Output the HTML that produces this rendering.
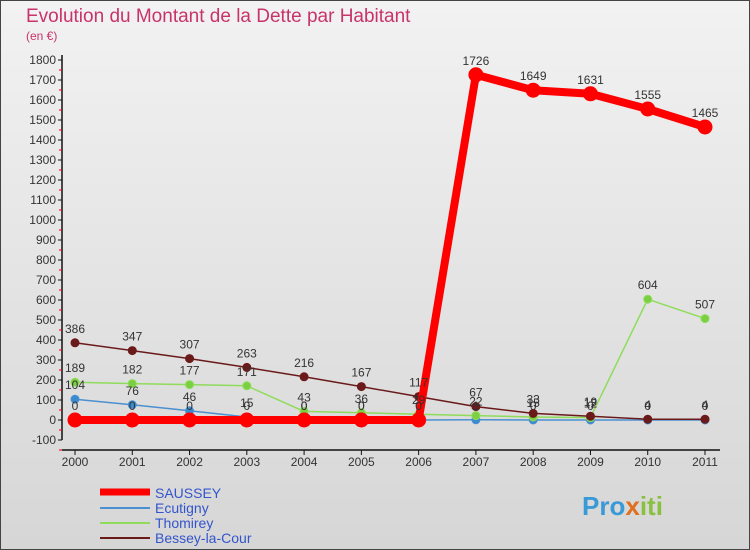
<!DOCTYPE html>
<html><head><meta charset="utf-8"><style>
body{margin:0;width:750px;height:550px;overflow:hidden;font-family:"Liberation Sans",sans-serif}
svg{display:block}
</style></head><body>
<svg id="chart" width="750" height="550" xmlns="http://www.w3.org/2000/svg">
<defs><linearGradient id="bg" x1="0" y1="0" x2="0" y2="1"><stop offset="0" stop-color="#f2f2f2"/><stop offset="1" stop-color="#d6d6d6"/></linearGradient></defs>
<rect x="0.5" y="0.5" width="749" height="549" fill="url(#bg)" stroke="#444"/>
<text x="26" y="22" font-size="19" fill="#c8336a">Evolution du Montant de la Dette par Habitant</text>
<text x="26" y="40" font-size="12" fill="#c8336a">(en €)</text>
<g id="axes"></g><g id="series"></g><g id="labels"></g>
<g>
<line x1="100" y1="492" x2="150" y2="492" stroke="#f00" stroke-width="7"/>
<text x="155" y="498" font-size="14" fill="#3355cc">SAUSSEY</text>
<line x1="100" y1="508" x2="150" y2="508" stroke="#4a90d0" stroke-width="2"/>
<text x="155" y="513" font-size="14" fill="#3355cc">Ecutigny</text>
<line x1="100" y1="523" x2="150" y2="523" stroke="#8fdc5a" stroke-width="2"/>
<text x="155" y="528" font-size="14" fill="#3355cc">Thomirey</text>
<line x1="100" y1="538" x2="150" y2="538" stroke="#6b1a1a" stroke-width="2"/>
<text x="155" y="543" font-size="14" fill="#3355cc">Bessey-la-Cour</text>
</g>
<text x="582" y="515" font-size="26" font-weight="bold" fill="#3a9ad8">Pro<tspan fill="#e07020">x</tspan><tspan fill="#8ac040">iti</tspan></text>
</svg>
<script>
const years=[2000,2001,2002,2003,2004,2005,2006,2007,2008,2009,2010,2011];
const yTicks=[-100,0,100,200,300,400,500,600,700,800,900,1000,1100,1200,1300,1400,1500,1600,1700,1800];
const saussey=[0,0,0,0,0,0,0,1726,1649,1631,1555,1465];
const ecutigny=[104,76,46,15,0,0,0,1,0,0,0,0];
const thomirey=[189,182,177,171,43,36,29,22,15,12,604,507];
const bessey=[386,347,307,263,216,167,117,67,33,19,4,4];
const NS="http://www.w3.org/2000/svg";
const X=i=>75+i*(630/(years.length-1));
const Y=v=>420-v*0.2;
function mk(t,a,p){const e=document.createElementNS(NS,t);for(const k in a)e.setAttribute(k,a[k]);p.appendChild(e);return e;}
const ax=document.getElementById('axes');
const yl=mk('line',{x1:62,y1:55,x2:62,y2:440,stroke:'#111','stroke-width':1.5},ax);


const xl=mk('line',{x1:62,y1:450,x2:720,y2:450,stroke:'#111','stroke-width':1.5},ax);


yTicks.forEach(v=>{
 mk('line',{x1:58,y1:Y(v),x2:62,y2:Y(v),stroke:'#111'},ax);
 mk('line',{x1:59,y1:Y(v)+10,x2:62,y2:Y(v)+10,stroke:'#e00'},ax);
 const t=mk('text',{x:56,y:Y(v)+4,'text-anchor':'end','font-size':12,fill:'#333'},ax);
 
 
 t.textContent=v;
});
years.forEach((y,i)=>{
 mk('line',{x1:X(i),y1:450,x2:X(i),y2:455,stroke:'#111'},ax);
 const t=mk('text',{x:X(i),y:466,'text-anchor':'middle','font-size':12,fill:'#333'},ax);
 
 
 t.textContent=y;
});
const sg=document.getElementById('series'),lg=document.getElementById('labels');
function draw(data,color,w,r,name,pc){
 const p=mk('polyline',{points:data.map((v,i)=>X(i)+','+Y(v)).join(' '),fill:'none',stroke:color,'stroke-width':w,'stroke-linejoin':'round'},sg);
 
 
 data.forEach((v,i)=>{
  const c=mk('circle',{cx:X(i),cy:Y(v),r:r,fill:pc,stroke:color,'stroke-width':1},sg);
  
  
  const t=mk('text',{x:X(i),y:Y(v)-10,'text-anchor':'middle','font-size':12,fill:'#333'},lg);
  
  
  t.textContent=v;
 });
}
draw(ecutigny,'#4a90d0',1.5,4,'ecutigny','#3a8ad0');
draw(thomirey,'#8fdc5a',1.5,4,'thomirey','#7ad040');
draw(bessey,'#6b1a1a',1.5,4,'bessey','#6b1a1a');
draw(saussey,'#f00',8,7,'saussey','#f00');
</script>
</body></html>
